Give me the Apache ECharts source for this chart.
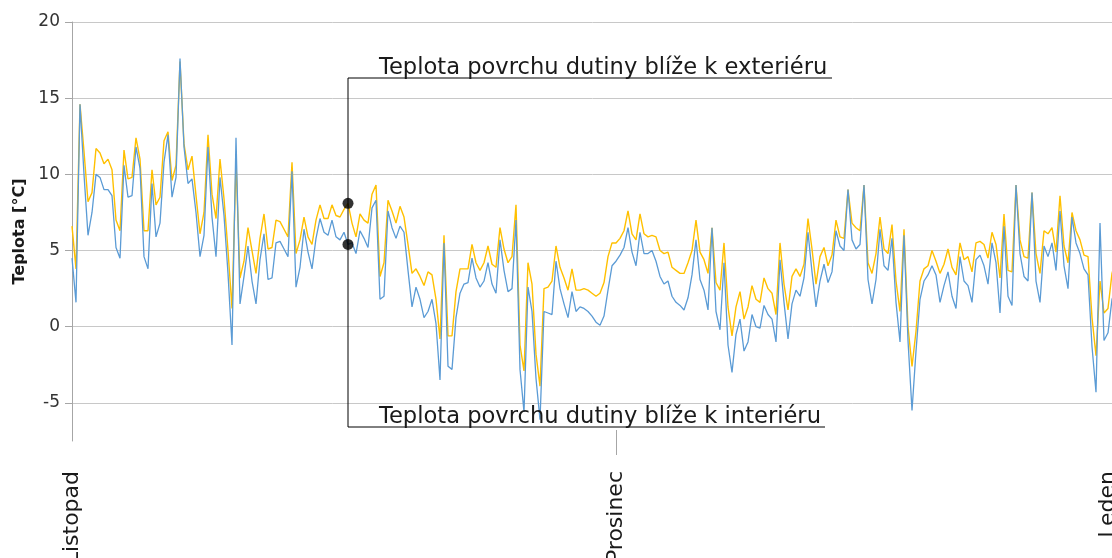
<!DOCTYPE html>
<html>
<head>
<meta charset="utf-8">
<title>Teplota povrchu dutiny</title>
<script src="https://cdn.jsdelivr.net/npm/echarts@6/dist/echarts.min.js"></script>
<style>
  html, body { margin: 0; padding: 0; background: #ffffff; }
  #chart { width: 1112px; height: 558px; }
</style>
</head>
<body>
<div id="chart"></div>
<script>
// Surface temperature of the cavity, side nearer the exterior [°C]
const exteriorSide = [
  6.6, 3.8, 14.6, 11.5, 8.2, 8.8, 11.7, 11.4, 10.7, 11.0,
  10.3, 7.0, 6.3, 11.6, 9.7, 9.8, 12.4, 11.0, 6.3, 6.3,
  10.3, 8.0, 8.5, 12.2, 12.8, 9.6, 10.6, 17.4, 12.0, 10.3,
  11.2, 8.6, 6.1, 7.5, 12.6, 8.7, 7.1, 11.0, 8.4, 5.0,
  1.2, 10.8, 3.2, 4.3, 6.5, 5.0, 3.5, 5.8, 7.4, 5.1,
  5.2, 7.0, 6.9, 6.4, 5.9, 10.8, 4.8, 5.7, 7.2, 5.9,
  5.4, 7.0, 8.0, 7.1, 7.1, 8.0, 7.3, 7.2, 7.7, 8.1,
  6.8, 5.9, 7.4, 7.0, 6.8, 8.7, 9.3, 3.3, 4.2, 8.3,
  7.6, 6.8, 7.9, 7.2, 5.4, 3.5, 3.8, 3.3, 2.7, 3.6,
  3.4, 1.8, -0.8, 6.0, -0.6, -0.6, 2.3, 3.8, 3.8, 3.8,
  5.4, 4.2, 3.7, 4.2, 5.3, 4.1, 3.9, 6.5, 5.1, 4.2,
  4.6, 8.0, -1.2, -2.9, 4.2, 2.8, -1.8, -3.9, 2.5, 2.6,
  3.0, 5.3, 3.9, 3.2, 2.4, 3.8, 2.4, 2.4, 2.5, 2.4,
  2.2, 2.0, 2.2, 2.9, 4.6, 5.5, 5.5, 5.8, 6.3, 7.6,
  6.1, 5.7, 7.4, 6.1, 5.9, 6.0, 5.9, 5.0, 4.8, 4.9,
  3.9, 3.7, 3.5, 3.5, 4.2, 5.0, 7.0, 4.9, 4.4, 3.5,
  6.5, 2.9, 2.4, 5.5, 1.3, -0.6, 1.3, 2.3, 0.5, 1.3,
  2.7, 1.8, 1.6, 3.2, 2.5, 2.2, 0.8, 5.5, 2.8, 1.1,
  3.3, 3.8, 3.3, 4.1, 7.1, 5.1, 2.8, 4.6, 5.2, 4.0,
  4.7, 7.0, 5.9, 5.8, 9.0, 6.8, 6.5, 6.3, 9.3, 4.2,
  3.5, 4.8, 7.2, 5.1, 4.8, 6.7, 3.0, 1.0, 6.4, 0.0,
  -2.6, -0.3, 3.0, 3.8, 4.0, 5.0, 4.3, 3.5, 4.1, 5.1,
  3.9, 3.4, 5.5, 4.4, 4.6, 3.6, 5.5, 5.6, 5.4, 4.5,
  6.2, 5.4, 3.2, 7.4, 3.7, 3.6, 9.3, 5.7, 4.6, 4.5,
  8.8, 4.8, 3.5, 6.3, 6.1, 6.5, 4.9, 8.6, 5.3, 4.2,
  7.5, 6.3, 5.7, 4.7, 4.6, 0.6, -1.9, 3.0, 0.9, 1.2,
  3.5, 4.5, 5.0
];

// Surface temperature of the cavity, side nearer the interior [°C]
const interiorSide = [
  4.5, 1.6, 14.6, 10.0, 6.0, 7.5, 10.0, 9.8, 9.0, 9.0,
  8.6, 5.2, 4.5, 10.6, 8.5, 8.6, 11.8, 10.4, 4.6, 3.8,
  9.4, 5.9, 6.8, 10.8, 12.6, 8.5, 9.8, 17.6, 11.8, 9.4,
  9.7, 7.5, 4.6, 6.0, 11.8, 7.2, 4.6, 9.8, 7.3, 3.5,
  -1.2, 12.4, 1.5, 3.3, 5.3, 3.0, 1.5, 4.4, 6.1, 3.1,
  3.2, 5.5, 5.6, 5.1, 4.6, 10.2, 2.6, 3.9, 6.4, 4.9,
  3.8, 5.8, 7.1, 6.2, 6.0, 7.0, 5.9, 5.7, 6.2, 5.4,
  5.5, 4.8, 6.3, 5.8, 5.2, 7.8, 8.3, 1.8, 2.0, 7.6,
  6.5, 5.8, 6.6, 6.2, 3.7, 1.3, 2.6, 1.8, 0.6, 1.0,
  1.8, 0.2, -3.5, 5.5, -2.6, -2.8, 0.6, 2.2, 2.8, 2.9,
  4.5, 3.2, 2.6, 3.0, 4.2, 2.8, 2.2, 5.7, 3.7, 2.3,
  2.5, 7.0, -2.8, -5.6, 2.6, 1.0, -3.4, -6.1, 1.0, 0.9,
  0.8, 4.3, 2.5, 1.5, 0.6, 2.3, 1.0, 1.3, 1.2, 1.0,
  0.7, 0.3, 0.1, 0.7, 2.4, 4.0, 4.3, 4.7, 5.2, 6.5,
  4.9, 4.0, 6.2, 4.8, 4.8, 5.0, 4.3, 3.3, 2.8, 3.0,
  2.0, 1.6, 1.4, 1.1, 1.9, 3.4, 5.7, 3.1, 2.4, 1.1,
  6.5, 1.0, -0.2, 4.2, -1.2, -3.0, -0.5, 0.5, -1.6, -1.0,
  0.8, 0.0, -0.1, 1.4, 0.8, 0.5, -1.0, 4.4, 1.6, -0.8,
  1.5, 2.4, 2.0, 3.2, 6.2, 3.6, 1.3, 3.0, 4.1, 2.9,
  3.6, 6.3, 5.3, 5.0, 9.0, 5.7, 5.1, 5.4, 9.3, 3.1,
  1.5, 3.1, 6.4, 4.0, 3.7, 5.8, 1.6, -1.0, 6.0, -0.9,
  -5.5, -1.6, 1.8, 3.0, 3.4, 4.0, 3.4, 1.6, 2.7, 3.6,
  2.0, 1.2, 4.6, 3.0, 2.7, 1.6, 4.4, 4.7, 4.0, 2.8,
  5.5, 4.2, 0.9, 6.6, 2.0, 1.4, 9.3, 4.8, 3.3, 3.0,
  8.8, 3.0, 1.6, 5.3, 4.6, 5.5, 3.7, 7.6, 4.0, 2.5,
  7.2, 5.5, 4.8, 3.8, 3.4, -1.3, -4.3, 6.8, -0.9, -0.4,
  1.8, 2.5, 3.0
];

// Month labels and the sample index where each month is marked
const monthLabels = ['Listopad', 'Prosinec', 'Leden'];
const monthIndex = [0, 136, 259];

// Callout texts and the sample index they point at
const exteriorLabel = 'Teplota povrchu dutiny blíže k exteriéru';
const interiorLabel = 'Teplota povrchu dutiny blíže k interiéru';
const calloutIndex = 69;

const yAxisTitle = 'Teplota [°C]';
const yMin = -7.5;
const yMax = 20;

const categories = exteriorSide.map((_, i) => String(i));

const FONT = 'DejaVu Sans, Verdana, sans-serif';
const chart = echarts.init(document.getElementById('chart'), null, { renderer: 'canvas' });

const isMonthTick = (idx) => monthIndex.indexOf(idx) !== -1;
// the first and last months sit on the plot edges, so only inner months get a tick mark
const isInnerMonthTick = (idx) => monthIndex.indexOf(idx) > 0 && monthIndex.indexOf(idx) < monthIndex.length - 1;
const monthName = (val, idx) => {
  const k = monthIndex.indexOf(idx);
  return k === -1 ? '' : monthLabels[k];
};

chart.setOption({
  animation: false,
  backgroundColor: '#ffffff',
  grid: { left: 72, right: -8, top: 22, bottom: 117, containLabel: false, outerBoundsMode: 'none' },
  xAxis: [
    {
      // month labels with ticks below the plot edge
      type: 'category',
      data: categories,
      boundaryGap: false,
      axisLine: { show: false, onZero: false },
      axisTick: {
        show: true,
        interval: isInnerMonthTick,
        length: 14,
        lineStyle: { color: '#a6a6a6', width: 1 }
      },
      axisLabel: {
        interval: isMonthTick,
        rotate: 90,
        margin: 30,
        fontFamily: FONT,
        fontSize: 22,
        color: '#1a1a1a',
        formatter: monthName
      },
      splitLine: { show: false }
    },
    {
      // same month ticks continued a little inside the plot
      type: 'category',
      data: categories,
      boundaryGap: false,
      position: 'bottom',
      axisLine: { show: false, onZero: false },
      axisTick: {
        show: true,
        inside: true,
        interval: isInnerMonthTick,
        length: 11,
        lineStyle: { color: '#a6a6a6', width: 1 }
      },
      axisLabel: { show: false },
      splitLine: { show: false }
    }
  ],
  yAxis: {
    type: 'value',
    min: yMin,
    max: yMax,
    splitNumber: 5,
    name: yAxisTitle,
    nameLocation: 'middle',
    nameGap: 44,
    nameRotate: 90,
    nameTextStyle: { fontFamily: FONT, fontSize: 16, fontWeight: 'bold', color: '#1a1a1a' },
    axisLine: { show: true, onZero: false, lineStyle: { color: '#a6a6a6', width: 1 } },
    axisTick: { show: true, length: 7, lineStyle: { color: '#a6a6a6' } },
    axisLabel: {
      showMinLabel: false,
      margin: 12,
      fontFamily: FONT,
      fontSize: 17,
      color: '#333333'
    },
    splitLine: { show: true, showMinLine: false, lineStyle: { color: '#c8c8c8', width: 1 } }
  },
  series: [
    {
      name: exteriorLabel,
      type: 'line',
      data: exteriorSide,
      showSymbol: false,
      lineStyle: { color: '#FFC000', width: 1.4 },
      itemStyle: { color: '#FFC000' },
      z: 2
    },
    {
      name: interiorLabel,
      type: 'line',
      data: interiorSide,
      showSymbol: false,
      lineStyle: { color: '#5B9BD5', width: 1.3 },
      itemStyle: { color: '#5B9BD5' },
      z: 3
    },
    {
      type: 'scatter',
      data: [
        [calloutIndex, exteriorSide[calloutIndex]],
        [calloutIndex, interiorSide[calloutIndex]]
      ],
      symbolSize: 11,
      itemStyle: { color: '#000000' },
      z: 5
    }
  ]
});

// Callout: one vertical leader through both points, with a text line at each end
const px = chart.convertToPixel({ xAxisIndex: 0, yAxisIndex: 0 }, [calloutIndex, 0])[0];
const topY = 78, bottomY = 427;
chart.setOption({
  graphic: [
    { type: 'line', shape: { x1: px, y1: topY, x2: px, y2: bottomY }, style: { stroke: '#000', lineWidth: 1 }, z: 10 },
    { type: 'line', shape: { x1: px, y1: topY, x2: 832, y2: topY }, style: { stroke: '#000', lineWidth: 1 }, z: 10 },
    { type: 'line', shape: { x1: px, y1: bottomY, x2: 825, y2: bottomY }, style: { stroke: '#000', lineWidth: 1 }, z: 10 },
    { type: 'text', x: 379, y: topY + 2, style: { text: exteriorLabel, fontFamily: FONT, fontSize: 22.6, fill: '#1a1a1a', textVerticalAlign: 'bottom' }, z: 10 },
    { type: 'text', x: 379, y: bottomY + 2, style: { text: interiorLabel, fontFamily: FONT, fontSize: 22.6, fill: '#1a1a1a', textVerticalAlign: 'bottom' }, z: 10 }
  ]
});
</script>
</body>
</html>
